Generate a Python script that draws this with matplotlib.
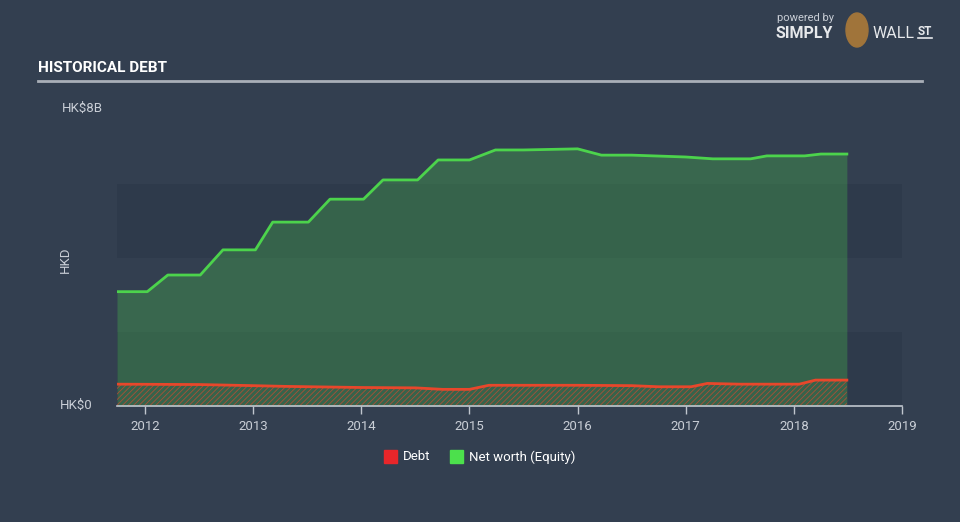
import matplotlib
matplotlib.use("Agg")
import matplotlib.pyplot as plt
from matplotlib.patches import Rectangle, Ellipse

# net worth (equity), HK$ billions
eq_x = [2011.74, 2012.02, 2012.21, 2012.51, 2012.72, 2013.02, 2013.18, 2013.51,
        2013.71, 2014.02, 2014.20, 2014.52, 2014.71, 2015.00, 2015.24, 2015.50,
        2016.00, 2016.22, 2016.50, 2017.00, 2017.25, 2017.60, 2017.75, 2018.10,
        2018.25, 2018.49]
eq_y = [3.09, 3.09, 3.54, 3.54, 4.22, 4.22, 4.97, 4.97,
        5.59, 5.59, 6.11, 6.11, 6.65, 6.65, 6.92, 6.92,
        6.95, 6.78, 6.78, 6.73, 6.68, 6.68, 6.76, 6.76,
        6.81, 6.81]

# debt, HK$ billions
debt_x = [2011.74, 2012.50, 2013.00, 2013.30, 2014.00, 2014.50, 2014.75, 2015.00,
          2015.18, 2016.00, 2016.50, 2016.75, 2017.05, 2017.20, 2017.50, 2018.05,
          2018.20, 2018.49]
debt_y = [0.59, 0.58, 0.55, 0.53, 0.50, 0.49, 0.45, 0.45,
          0.56, 0.56, 0.55, 0.52, 0.52, 0.61, 0.59, 0.59,
          0.70, 0.70]

years = [2012, 2013, 2014, 2015, 2016, 2017, 2018, 2019]

bg = "#333f50"
green = "#4cd34c"
red = "#e8472b"
txt = "#c9ced6"
font = ["Roboto", "DejaVu Sans"]

plt.rcParams["hatch.linewidth"] = 0.6

fig = plt.figure(figsize=(9.6, 5.22), dpi=100, facecolor=bg)
ax = fig.add_axes([117 / 960, 116 / 522, 785 / 960, 296 / 522])
ax.set_facecolor(bg)

# alternating bands
for lo in (0, 4):
    ax.axhspan(lo, lo + 2, color="#2b3747", alpha=0.55, lw=0, zorder=0)

ax.fill_between(eq_x, 0, eq_y, color=green, alpha=0.27, lw=0, zorder=1)
ax.plot(eq_x, eq_y, color=green, lw=2, zorder=3)

ax.fill_between(debt_x, 0, debt_y, facecolor="none", edgecolor=red, alpha=0.65,
                hatch="//////", lw=0, zorder=2)
ax.plot(debt_x, debt_y, color=red, lw=2, zorder=3)

ax.set_xlim(2011.74, 2019.0)
ax.set_ylim(0, 8)
ax.set_yticks([])
ax.set_xticks(years)
ax.set_xticklabels([str(y) for y in years], fontfamily=font, fontsize=9.5, color=txt)
ax.tick_params(axis="x", colors="#c0c6ce", length=6, width=1, pad=4, labelcolor=txt)
for s in ("top", "right", "left"):
    ax.spines[s].set_visible(False)
ax.spines["bottom"].set_color("#c0c6ce")
ax.spines["bottom"].set_linewidth(1.2)

# y labels
fig.text(62 / 960, 1 - 108 / 522, "HK$8B", fontfamily=font, fontsize=9.5,
         color=txt, va="center", ha="left")
fig.text(93 / 960, 1 - 405 / 522, "HK$0", fontfamily=font, fontsize=9.5,
         color=txt, va="center", ha="right")
fig.text(65 / 960, 1 - 260 / 522, "HKD", fontfamily=font, fontsize=9.5,
         color=txt, va="center", ha="center", rotation=90)

# title and rule
fig.text(38 / 960, 1 - 68 / 522, "HISTORICAL DEBT", fontfamily=font,
         fontsize=11, fontweight="bold", color="white", va="center", ha="left")
fig.add_artist(plt.Line2D([38 / 960, 922 / 960], [1 - 81 / 522, 1 - 81 / 522],
                          color="#a9afb8", lw=2))

# legend
fig.add_artist(Rectangle((384 / 960, 1 - 463 / 522), 13 / 960, 13 / 522,
                         color="#e8262a"))
fig.text(403 / 960, 1 - 457 / 522, "Debt", fontfamily=font, fontsize=9.5,
         color="white", va="center")
fig.add_artist(Rectangle((450 / 960, 1 - 463 / 522), 13 / 960, 13 / 522,
                         color="#4ce04c"))
fig.text(469 / 960, 1 - 457 / 522, "Net worth (Equity)", fontfamily=font,
         fontsize=9.5, color="white", va="center")

# logo
fig.text(777 / 960, 1 - 18 / 522, "powered by", fontfamily=font, fontsize=8,
         color="#c9ced6", va="center")
fig.text(776 / 960, 1 - 33 / 522, "SIMPLY", fontfamily=font, fontsize=11.5,
         fontweight="bold", color="#e6e8eb", va="center")
fig.add_artist(Ellipse((857 / 960, 1 - 30 / 522), 22 / 960, 34 / 522,
                       color="#a0743a"))
fig.text(873 / 960, 1 - 33 / 522, "WALL", fontfamily=font, fontsize=11.5,
         color="#e6e8eb", va="center")
fig.text(918 / 960, 1 - 31 / 522, "ST", fontfamily=font, fontsize=8.5,
         fontweight="bold", color="#e6e8eb", va="center")
fig.add_artist(plt.Line2D([918 / 960, 932 / 960], [1 - 38 / 522, 1 - 38 / 522],
                          color="#e6e8eb", lw=1.2))

fig.savefig("out.png", dpi=100, facecolor=bg)
